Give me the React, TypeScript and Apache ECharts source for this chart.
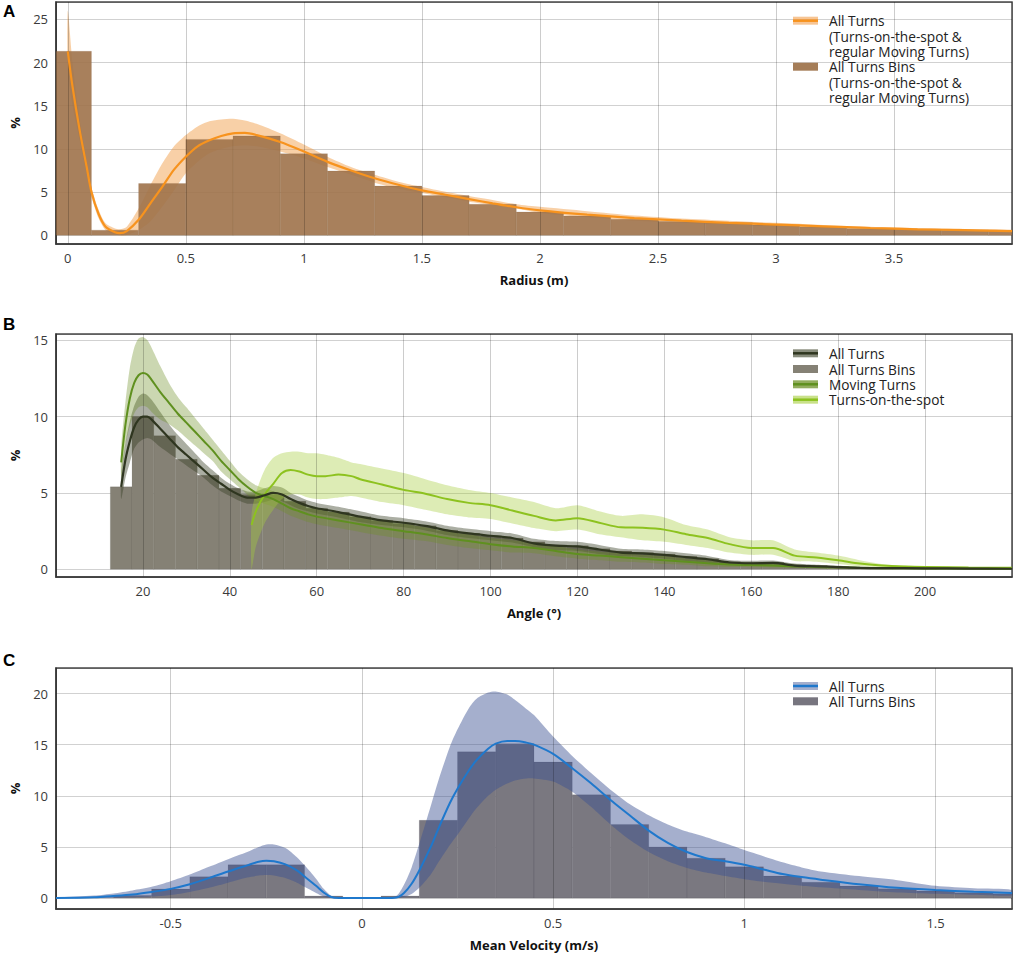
import React, { useEffect, useRef } from "react";
import * as echarts from "echarts";

const FONT = '"Open Sans", "DejaVu Sans", sans-serif';

// ---------------- Panel A : Radius ----------------
const radiusBinCenters = [0, 0.2, 0.4, 0.6, 0.8, 1.0, 1.2, 1.4, 1.6, 1.8, 2.0, 2.2, 2.4, 2.6, 2.8, 3.0, 3.2, 3.4, 3.6, 3.8, 4.0];
const radiusBinPercent = [21.3, 0.6, 6.0, 11.1, 11.5, 9.45, 7.45, 5.7, 4.6, 3.6, 2.7, 2.25, 1.85, 1.6, 1.45, 1.2, 1.0, 0.8, 0.7, 0.6, 0.55];
const radiusBinWidth = 0.2;
const radiusKdeX = [0, 0.02, 0.05, 0.08, 0.1, 0.13, 0.16, 0.2, 0.22, 0.25, 0.3, 0.35, 0.4, 0.45, 0.5, 0.55, 0.6, 0.65, 0.7, 0.75, 0.8, 0.9, 1.0, 1.1, 1.2, 1.3, 1.4, 1.5, 1.6, 1.7, 1.8, 1.9, 2.0, 2.2, 2.4, 2.6, 2.8, 3.0, 3.2, 3.4, 3.6, 3.8, 4.0];
const radiusKde = [21.3, 17.2, 12.2, 7.9, 5.05, 2.5, 1.0, 0.35, 0.25, 0.5, 1.8, 3.7, 5.6, 7.6, 9.1, 10.3, 11.0, 11.5, 11.8, 11.85, 11.6, 10.8, 9.7, 8.5, 7.5, 6.6, 5.85, 5.2, 4.7, 4.2, 3.7, 3.25, 2.9, 2.4, 2.0, 1.7, 1.45, 1.25, 1.05, 0.85, 0.7, 0.6, 0.5];
const radiusKdeUpper = [26.0, 20.0, 13.5, 8.7, 5.6, 3.0, 1.4, 0.8, 0.7, 1.0, 3.1, 5.8, 8.3, 10.3, 11.6, 12.6, 13.2, 13.4, 13.5, 13.3, 12.9, 11.8, 10.5, 9.1, 7.9, 7.0, 6.2, 5.6, 5.05, 4.55, 4.1, 3.6, 3.3, 2.8, 2.3, 1.95, 1.7, 1.45, 1.2, 1.0, 0.85, 0.75, 0.65];
const radiusKdeLower = [19.0, 15.0, 11.0, 7.1, 4.5, 2.0, 0.6, 0.1, 0.0, 0.05, 0.6, 1.6, 3.3, 5.2, 7.2, 8.5, 9.5, 10.0, 10.3, 10.4, 10.3, 9.7, 8.9, 7.9, 7.0, 6.1, 5.4, 4.9, 4.4, 3.9, 3.5, 3.1, 2.6, 2.1, 1.7, 1.45, 1.25, 1.05, 0.9, 0.7, 0.55, 0.5, 0.42];

// ---------------- Panel B : Angle ----------------
const angleBinCenters = [15, 20, 25, 30, 35, 40, 45, 50, 55, 60, 65, 70, 75, 80, 85, 90, 95, 100, 105, 110, 115, 120, 125, 130, 135, 140, 145, 150, 155, 160, 165, 170, 175, 180, 185, 190, 195, 200, 205, 210, 215, 220];
const angleBinPercent = [5.4, 10.0, 8.75, 7.2, 6.15, 5.3, 4.9, 4.9, 4.45, 4.0, 3.75, 3.45, 3.2, 3.0, 2.85, 2.55, 2.35, 2.2, 2.05, 1.8, 1.6, 1.55, 1.35, 1.2, 1.1, 1.0, 0.85, 0.7, 0.5, 0.45, 0.45, 0.3, 0.25, 0.18, 0.15, 0.12, 0.1, 0.1, 0.08, 0.07, 0.06, 0.05];
const angleBinWidth = 5;
const angleKdeX = [15, 16, 17, 18, 19, 20, 21, 22, 24, 26, 28, 30, 32, 34, 36, 38, 40, 42, 44, 46, 48, 50, 52, 54, 56, 58, 60, 65, 70, 75, 80, 85, 90, 95, 100, 105, 110, 115, 120, 125, 130, 135, 140, 145, 150, 155, 160, 165, 170, 175, 180, 185, 190, 200, 210, 220];
const allTurnsKde = [5.4, 7.2, 8.4, 9.3, 9.8, 10.0, 10.0, 9.8, 9.2, 8.6, 8.0, 7.5, 7.0, 6.5, 6.0, 5.6, 5.2, 4.9, 4.7, 4.7, 4.85, 5.0, 4.9, 4.6, 4.35, 4.15, 4.0, 3.75, 3.45, 3.2, 3.05, 2.85, 2.55, 2.35, 2.2, 2.05, 1.7, 1.55, 1.5, 1.3, 1.1, 1.05, 0.95, 0.8, 0.66, 0.45, 0.4, 0.42, 0.25, 0.2, 0.15, 0.1, 0.08, 0.07, 0.05, 0.04];
const allTurnsUpper = [6.3, 8.3, 9.7, 10.7, 11.3, 11.5, 11.4, 11.1, 10.3, 9.5, 8.8, 8.2, 7.6, 7.0, 6.5, 6.0, 5.6, 5.3, 5.1, 5.1, 5.3, 5.45, 5.35, 5.0, 4.75, 4.5, 4.35, 4.1, 3.8, 3.5, 3.35, 3.15, 2.85, 2.65, 2.5, 2.35, 2.0, 1.85, 1.8, 1.6, 1.35, 1.3, 1.2, 1.05, 0.88, 0.62, 0.56, 0.58, 0.38, 0.3, 0.23, 0.16, 0.13, 0.11, 0.08, 0.07];
const allTurnsLower = [4.6, 6.0, 7.0, 7.9, 8.3, 8.5, 8.6, 8.5, 8.0, 7.6, 7.2, 6.8, 6.4, 6.0, 5.5, 5.1, 4.8, 4.5, 4.3, 4.3, 4.4, 4.55, 4.45, 4.2, 3.95, 3.8, 3.65, 3.4, 3.1, 2.9, 2.75, 2.55, 2.25, 2.05, 1.9, 1.75, 1.45, 1.25, 1.2, 1.0, 0.85, 0.8, 0.7, 0.55, 0.44, 0.28, 0.24, 0.26, 0.12, 0.1, 0.07, 0.04, 0.03, 0.03, 0.02, 0.01];
const movingKde = [7.0, 9.5, 11.2, 12.2, 12.7, 12.85, 12.75, 12.4, 11.6, 10.9, 10.2, 9.6, 9.0, 8.4, 7.8, 7.1, 6.5, 5.9, 5.4, 5.0, 4.8, 4.6, 4.3, 4.0, 3.8, 3.6, 3.45, 3.2, 2.95, 2.7, 2.5, 2.3, 2.05, 1.85, 1.65, 1.5, 1.4, 1.2, 1.0, 0.9, 0.8, 0.7, 0.6, 0.5, 0.4, 0.32, 0.28, 0.25, 0.2, 0.16, 0.13, 0.1, 0.08, 0.06, 0.05, 0.04];
const movingUpper = [8.0, 11.0, 13.2, 14.5, 15.1, 15.2, 15.0, 14.5, 13.3, 12.2, 11.3, 10.6, 9.9, 9.2, 8.5, 7.8, 7.1, 6.4, 5.9, 5.5, 5.3, 5.1, 4.8, 4.5, 4.3, 4.1, 3.95, 3.7, 3.45, 3.2, 3.0, 2.75, 2.5, 2.3, 2.05, 1.9, 1.75, 1.55, 1.3, 1.15, 1.05, 0.95, 0.85, 0.7, 0.6, 0.5, 0.42, 0.38, 0.3, 0.25, 0.2, 0.15, 0.12, 0.09, 0.07, 0.06];
const movingLower = [6.0, 8.2, 9.4, 10.2, 10.6, 10.7, 10.6, 10.3, 9.8, 9.5, 9.1, 8.6, 8.1, 7.6, 7.1, 6.4, 5.9, 5.4, 4.9, 4.5, 4.3, 4.1, 3.8, 3.5, 3.3, 3.1, 2.95, 2.7, 2.45, 2.2, 2.0, 1.85, 1.6, 1.4, 1.25, 1.1, 1.05, 0.85, 0.7, 0.6, 0.5, 0.45, 0.35, 0.3, 0.2, 0.15, 0.14, 0.12, 0.1, 0.08, 0.06, 0.05, 0.04, 0.03, 0.03, 0.02];
const spotKdeX = [45, 46, 48, 50, 52, 54, 56, 58, 60, 62, 65, 68, 70, 75, 80, 85, 90, 95, 100, 105, 110, 115, 120, 125, 130, 135, 140, 145, 150, 155, 160, 165, 170, 175, 180, 185, 190, 195, 200, 210, 220];
const spotKde = [2.9, 3.8, 4.9, 5.6, 6.3, 6.5, 6.4, 6.2, 6.1, 6.1, 6.2, 6.1, 5.9, 5.55, 5.2, 4.95, 4.6, 4.35, 4.2, 3.85, 3.5, 3.2, 3.35, 3.05, 2.75, 2.72, 2.6, 2.3, 2.05, 1.65, 1.4, 1.4, 0.9, 0.78, 0.6, 0.38, 0.25, 0.18, 0.15, 0.12, 0.1];
const spotUpper = [3.6, 5.0, 6.5, 7.3, 7.6, 7.7, 7.7, 7.6, 7.6, 7.5, 7.3, 7.0, 6.9, 6.6, 6.3, 5.9, 5.5, 5.2, 5.0, 4.7, 4.4, 4.0, 4.2, 3.8, 3.5, 3.6, 3.4, 2.9, 2.6, 2.1, 1.9, 1.9, 1.3, 1.1, 0.9, 0.6, 0.35, 0.25, 0.2, 0.16, 0.13];
const spotLower = [0.0, 1.5, 3.0, 3.9, 4.6, 4.9, 4.9, 4.7, 4.6, 4.6, 4.7, 4.8, 4.7, 4.4, 4.2, 3.9, 3.6, 3.4, 3.3, 3.0, 2.7, 2.5, 2.6, 2.3, 2.1, 1.9, 1.8, 1.6, 1.4, 1.1, 0.95, 0.95, 0.55, 0.5, 0.35, 0.2, 0.12, 0.1, 0.1, 0.08, 0.07];

// ---------------- Panel C : Mean velocity ----------------
const velocityBinCenters = [-0.7, -0.6, -0.5, -0.4, -0.3, -0.2, -0.1, 0, 0.1, 0.2, 0.3, 0.4, 0.5, 0.6, 0.7, 0.8, 0.9, 1.0, 1.1, 1.2, 1.3, 1.4, 1.5, 1.6, 1.7];
const velocityBinPercent = [0.05, 0.25, 0.88, 2.08, 3.25, 3.25, 0.2, 0, 0.2, 7.6, 14.3, 15.1, 13.3, 10.1, 7.2, 5.0, 3.9, 3.05, 2.15, 1.55, 1.17, 0.9, 0.68, 0.52, 0.42];
const velocityBinWidth = 0.1;
const velocityKdeX = [-0.8, -0.7, -0.65, -0.6, -0.55, -0.5, -0.45, -0.4, -0.35, -0.3, -0.27, -0.25, -0.23, -0.2, -0.17, -0.15, -0.12, -0.1, -0.08, -0.06, 0, 0.06, 0.09, 0.11, 0.13, 0.15, 0.18, 0.2, 0.23, 0.25, 0.28, 0.3, 0.33, 0.35, 0.38, 0.4, 0.43, 0.45, 0.5, 0.55, 0.6, 0.65, 0.7, 0.75, 0.8, 0.85, 0.9, 0.95, 1.0, 1.05, 1.1, 1.15, 1.2, 1.3, 1.4, 1.5, 1.6, 1.7];
const velocityKde = [0, 0.08, 0.2, 0.35, 0.6, 0.9, 1.35, 1.95, 2.6, 3.2, 3.55, 3.65, 3.6, 3.3, 2.7, 2.1, 1.2, 0.55, 0.1, 0, 0, 0, 0.05, 0.5, 1.4, 2.7, 5.0, 6.8, 9.3, 10.7, 12.5, 13.5, 14.6, 15.1, 15.35, 15.35, 15.2, 15.0, 14.1, 12.7, 11.2, 9.6, 8.1, 6.6, 5.4, 4.5, 3.9, 3.6, 3.25, 2.8, 2.35, 2.05, 1.8, 1.35, 1.0, 0.78, 0.62, 0.5];
const velocityUpper = [0.05, 0.25, 0.45, 0.75, 1.1, 1.65, 2.3, 3.05, 3.8, 4.5, 5.0, 5.25, 5.25, 4.9, 4.0, 3.2, 1.9, 0.9, 0.2, 0, 0, 0, 0.2, 1.3, 3.0, 5.3, 9.0, 11.5, 14.8, 16.5, 18.6, 19.5, 20.1, 20.2, 19.9, 19.4, 18.5, 17.9, 15.8, 13.9, 12.2, 10.6, 9.2, 8.1, 7.2, 6.5, 5.95, 5.35, 4.7, 4.1, 3.5, 3.0, 2.6, 2.15, 1.75, 1.2, 0.95, 0.8];
const velocityLower = [0, 0, 0.02, 0.08, 0.15, 0.3, 0.6, 1.0, 1.5, 2.0, 2.2, 2.25, 2.2, 1.95, 1.5, 1.1, 0.5, 0.15, 0, 0, 0, 0, 0, 0.1, 0.4, 1.0, 2.3, 3.5, 5.2, 6.2, 7.8, 8.8, 10.0, 10.6, 11.2, 11.5, 11.7, 11.7, 11.4, 10.4, 8.9, 7.2, 5.7, 4.5, 3.6, 2.95, 2.5, 2.15, 1.85, 1.6, 1.4, 1.2, 1.05, 0.8, 0.55, 0.42, 0.32, 0.26];

// ---------------- helpers ----------------
const pairs = (xs: number[], ys: number[]) => xs.map((x, i) => [x, ys[i]]);
const binData = (c: number[], v: number[], w: number) => c.map((x, i) => [x - w / 2, x + w / 2, v[i]]);

function binSeries(g: number, data: number[][], fill: string, stroke: string, z: number) {
  return {
    type: "custom",
    xAxisIndex: g,
    yAxisIndex: g,
    z,
    silent: true,
    encode: { x: [0, 1], y: 2 },
    data,
    renderItem: (params: any, api: any) => {
      const p0 = api.coord([api.value(0), 0]);
      const p1 = api.coord([api.value(1), api.value(2)]);
      const cs = params.coordSys;
      const shape = echarts.graphic.clipRectByRect(
        { x: p0[0], y: p1[1], width: p1[0] - p0[0], height: p0[1] - p1[1] },
        { x: cs.x, y: cs.y, width: cs.width, height: cs.height }
      );
      if (!shape || shape.height <= 0) return null;
      return { type: "rect", shape, style: { fill, stroke, lineWidth: 0.6 } };
    },
  };
}

// confidence band: one polygon through upper values then lower values (reversed)
function bandSeries(g: number, xs: number[], lo: number[], hi: number[], color: string, z: number) {
  const data = xs.map((x, i) => [x, lo[i], hi[i]]);
  return {
    type: "custom",
    xAxisIndex: g,
    yAxisIndex: g,
    z,
    silent: true,
    encode: { x: 0, y: [1, 2] },
    data,
    renderItem: (params: any, api: any) => {
      if (params.dataIndex !== 0) return null;
      const top = data.map((d) => api.coord([d[0], d[2]]));
      const bottom = data.map((d) => api.coord([d[0], d[1]])).reverse();
      return {
        type: "polygon",
        shape: { points: top.concat(bottom), smooth: 0.25 },
        style: { fill: color, stroke: "none" },
      };
    },
  };
}

function lineSeries(g: number, xs: number[], ys: number[], color: string, z: number, width = 2) {
  return {
    type: "line", xAxisIndex: g, yAxisIndex: g, data: pairs(xs, ys), symbol: "none", smooth: 0.3,
    lineStyle: { color, width }, z, silent: true,
  };
}

function xAxis(g: number, name: string, min: number, max: number, extra: any) {
  return {
    type: "value", gridIndex: g, min, max, name, nameLocation: "middle", nameGap: 29, z: 4,
    nameTextStyle: { fontFamily: FONT, fontWeight: "bold", fontSize: 13, color: "#111" },
    axisLine: { onZero: false, lineStyle: { color: "#3a3a3a", width: 1.5 } },
    axisTick: { show: false },
    axisLabel: { showMinLabel: false, showMaxLabel: false, fontFamily: FONT, fontSize: 13, color: "#3a3a3a", margin: 7 },
    splitLine: { show: true, lineStyle: { color: "rgba(0,0,0,0.2)", width: 1 } },
    ...extra,
  };
}

function yAxis(g: number, min: number, max: number, splitNumber: number) {
  return {
    type: "value", gridIndex: g, min, max, splitNumber, name: "%", nameLocation: "middle", nameGap: 35, z: 0,
    nameTextStyle: { fontFamily: FONT, fontWeight: "bold", fontSize: 13, color: "#111" },
    axisLine: { show: true, onZero: false, lineStyle: { color: "#3a3a3a", width: 1.5 } },
    axisTick: { show: false },
    axisLabel: { showMinLabel: false, showMaxLabel: false, fontFamily: FONT, fontSize: 13, color: "#3a3a3a", margin: 8 },
    splitLine: { show: true, lineStyle: { color: "rgba(0,0,0,0.18)", width: 1 } },
  };
}

function legendItem(y: number, lines: string[], fill: string, line: string | null) {
  const items: any[] = [
    { type: "rect", shape: { x: 793, y: y - 4, width: 25, height: 8 }, style: { fill }, z: 100 },
  ];
  if (line) {
    items.push({ type: "line", shape: { x1: 793, y1: y, x2: 818, y2: y }, style: { stroke: line, lineWidth: 2.5 }, z: 101 });
  }
  lines.forEach((t, i) => {
    items.push({
      type: "text", x: 829, y: y + i * 15.3, z: 101,
      style: { text: t, font: `13.7px ${FONT}`, lineHeight: 15, fill: "#222", verticalAlign: "middle", align: "left" },
    });
  });
  return items;
}

function panelLabel(text: string, y: number) {
  return {
    type: "text", x: 3, y, z: 101,
    style: { text, font: 'bold 17px "Liberation Sans", Arial, sans-serif', fill: "#000", verticalAlign: "middle", align: "left" },
  };
}

export default function App() {
  const ref = useRef<HTMLDivElement>(null);
  useEffect(() => {
    if (!ref.current) return;
    const chart = echarts.init(ref.current, undefined, { renderer: "svg" });
    const gridBase = { left: 51, width: 961, show: true, borderColor: "#4a4a4a", borderWidth: 1.5, containLabel: false };

    const option: any = {
      animation: false,
      backgroundColor: "#fff",
      grid: [
        { ...gridBase, top: 2, height: 242 },
        { ...gridBase, top: 334, height: 243 },
        { ...gridBase, top: 668, height: 241 },
      ],
      xAxis: [
        xAxis(0, "Radius (m)", -0.05, 4.0, { splitNumber: 8 }),
        xAxis(1, "Angle (°)", 0, 220, { interval: 20 }),
        xAxis(2, "Mean Velocity (m/s)", -0.8, 1.7, { splitNumber: 5 }),
      ],
      yAxis: [yAxis(0, -1, 27, 6), yAxis(1, -0.5, 15.4, 3), yAxis(2, -1.07, 22.5, 5)],
      series: [
        // A
        bandSeries(0, radiusKdeX, radiusKdeLower, radiusKdeUpper, "rgba(240,150,60,0.45)", 1),
        binSeries(0, binData(radiusBinCenters, radiusBinPercent, radiusBinWidth), "rgba(158,114,74,0.9)", "rgba(120,85,55,0.25)", 2),
        lineSeries(0, radiusKdeX, radiusKde, "#f7931e", 5, 2.2),
        // B
        binSeries(1, binData(angleBinCenters, angleBinPercent, angleBinWidth), "#858175", "rgba(60,58,50,0.18)", 2),
        bandSeries(1, angleKdeX, allTurnsLower, allTurnsUpper, "rgba(55,62,35,0.42)", 3),
        bandSeries(1, angleKdeX, movingLower, movingUpper, "rgba(110,145,40,0.36)", 3),
        bandSeries(1, spotKdeX, spotLower, spotUpper, "rgba(165,205,60,0.38)", 3),
        lineSeries(1, spotKdeX, spotKde, "#8dc21f", 5, 2),
        lineSeries(1, angleKdeX, movingKde, "#5f901f", 5, 2),
        lineSeries(1, angleKdeX, allTurnsKde, "#2f3620", 5, 2.2),
        // C
        binSeries(2, binData(velocityBinCenters, velocityBinPercent, velocityBinWidth), "#7a7880", "rgba(40,40,50,0.2)", 2),
        bandSeries(2, velocityKdeX, velocityLower, velocityUpper, "rgba(58,80,145,0.46)", 3),
        lineSeries(2, velocityKdeX, velocityKde, "#1f78cc", 5, 2),
      ],
      graphic: [
        panelLabel("A", 11.2),
        panelLabel("B", 324.7),
        panelLabel("C", 660.8),
        ...legendItem(20.7, ["All Turns", "(Turns-on-the-spot &", "regular Moving Turns)"], "rgba(240,150,60,0.55)", "#f7931e"),
        ...legendItem(66.7, ["All Turns Bins", "(Turns-on-the-spot &", "regular Moving Turns)"], "#a57d58", null),
        ...legendItem(353.3, ["All Turns"], "rgba(55,62,35,0.6)", "#2f3620"),
        ...legendItem(369, ["All Turns Bins"], "#858175", null),
        ...legendItem(384.3, ["Moving Turns"], "rgba(110,145,40,0.75)", "#5f901f"),
        ...legendItem(399.7, ["Turns-on-the-spot"], "rgba(165,205,60,0.6)", "#8dc21f"),
        ...legendItem(686, ["All Turns"], "rgba(58,80,145,0.46)", "#1f78cc"),
        ...legendItem(701.3, ["All Turns Bins"], "#77757f", null),
      ],
    };
    chart.setOption(option);
    return () => chart.dispose();
  }, []);
  return (
    <div
      ref={ref}
      style={{ position: "absolute", left: 0, top: 0, width: 1017, height: 955, background: "#fff" }}
    />
  );
}
